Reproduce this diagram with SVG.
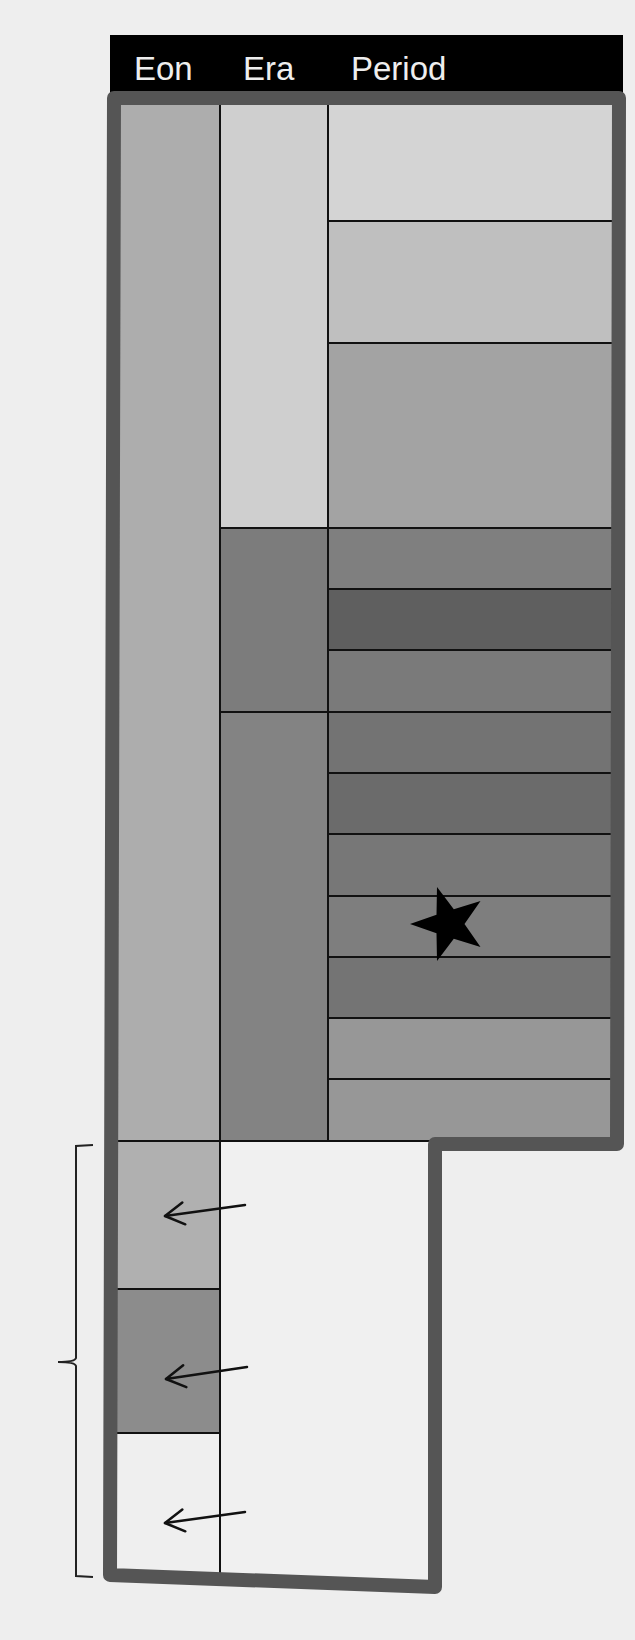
<svg xmlns="http://www.w3.org/2000/svg" width="635" height="1640" viewBox="0 0 635 1640">
  <style>
    .cell { stroke: #111111; stroke-width: 2; }
    .hdr { font-family: "Liberation Sans", Arial, sans-serif; font-size: 33px; fill: #eeeeee; }
    .outline { fill: none; stroke: #555555; stroke-width: 14; stroke-linejoin: round; }
    .conn { fill: none; stroke: #111111; stroke-width: 2.5; stroke-linecap: round; }
    .brace { fill: none; stroke: #222222; stroke-width: 2; }
  </style>
  <defs>
    <marker id="head" viewBox="-24 -14 27 28" refX="0" refY="0" markerWidth="27" markerHeight="28" markerUnits="userSpaceOnUse" orient="auto">
      <path d="M -19 -11 L 0 0 L -19 11" fill="none" stroke="#111111" stroke-width="2.5" stroke-linecap="round" stroke-linejoin="round"/>
    </marker>
  </defs>

  <rect x="0" y="0" width="635" height="1640" fill="#eeeeee"/>

  <g id="header">
    <rect x="110" y="35" width="513" height="58" fill="#000000"/>
    <text class="hdr" x="134" y="80">Eon</text>
    <text class="hdr" x="243" y="80">Era</text>
    <text class="hdr" x="351" y="80">Period</text>
  </g>

  <g id="lower-area">
    <rect x="220" y="1141" width="215" height="446" fill="#f0f0f0"/>
  </g>

  <g id="eon">
    <rect id="eon-1" class="cell" x="112" y="100" width="108" height="1041" fill="#adadad"/>
    <rect id="eon-2" class="cell" x="112" y="1141" width="108" height="148" fill="#b0b0b0"/>
    <rect id="eon-3" class="cell" x="112" y="1289" width="108" height="144" fill="#8c8c8c"/>
    <rect id="eon-4" class="cell" x="112" y="1433" width="108" height="145" fill="#efefef"/>
  </g>

  <g id="era">
    <rect id="era-1" class="cell" x="220" y="100" width="108" height="428" fill="#cfcfcf"/>
    <rect id="era-2" class="cell" x="220" y="528" width="108" height="184" fill="#7c7c7c"/>
    <rect id="era-3" class="cell" x="220" y="712" width="108" height="429" fill="#838383"/>
  </g>

  <g id="period">
    <rect id="p1" class="cell" x="328" y="100" width="290" height="121" fill="#d4d4d4"/>
    <rect id="p2" class="cell" x="328" y="221" width="290" height="122" fill="#bfbfbf"/>
    <rect id="p3" class="cell" x="328" y="343" width="290" height="185" fill="#a3a3a3"/>
    <rect id="p4" class="cell" x="328" y="528" width="290" height="61" fill="#7f7f7f"/>
    <rect id="p5" class="cell" x="328" y="589" width="290" height="61" fill="#5f5f5f"/>
    <rect id="p6" class="cell" x="328" y="650" width="290" height="62" fill="#7a7a7a"/>
    <rect id="p7" class="cell" x="328" y="712" width="290" height="61" fill="#737373"/>
    <rect id="p8" class="cell" x="328" y="773" width="290" height="61" fill="#6b6b6b"/>
    <rect id="p9" class="cell" x="328" y="834" width="290" height="62" fill="#777777"/>
    <rect id="p10" class="cell" x="328" y="896" width="290" height="61" fill="#7e7e7e"/>
    <rect id="p11" class="cell" x="328" y="957" width="290" height="61" fill="#747474"/>
    <rect id="p12" class="cell" x="328" y="1018" width="290" height="61" fill="#979797"/>
    <rect id="p13" class="cell" x="328" y="1079" width="290" height="62" fill="#979797"/>
  </g>

  <g id="dividers">
    <line x1="220" y1="1141" x2="435" y2="1141" stroke="#111111" stroke-width="2"/>
    <line x1="220" y1="1141" x2="220" y2="1576" stroke="#111111" stroke-width="2"/>
  </g>

  <g id="frame">
    <path class="outline" d="M 114 98 L 619 98 L 617 1144 L 435 1144 L 435 1587 L 110 1575 Z"/>
  </g>

  <g id="star">
    <polygon fill="#000000" transform="translate(3,2)" points="407,922 433.5,912.8 434,884.9 450.8,907.2 477.5,899.1 461.5,922 477.5,944.9 450.8,936.8 434,959.1 433.5,931.2"/>
  </g>

  <g id="brace">
    <path class="brace" d="M 93 1145 L 76 1146 L 76 1358 Q 75 1362 58 1362 Q 75 1362 76 1366 L 76 1576 L 93 1577"/>
  </g>

  <g id="connectors">
    <line class="conn" x1="245" y1="1205" x2="165" y2="1216" marker-end="url(#head)"/>
    <line class="conn" x1="247" y1="1367" x2="166" y2="1379" marker-end="url(#head)"/>
    <line class="conn" x1="245" y1="1512" x2="165" y2="1523" marker-end="url(#head)"/>
  </g>
</svg>
